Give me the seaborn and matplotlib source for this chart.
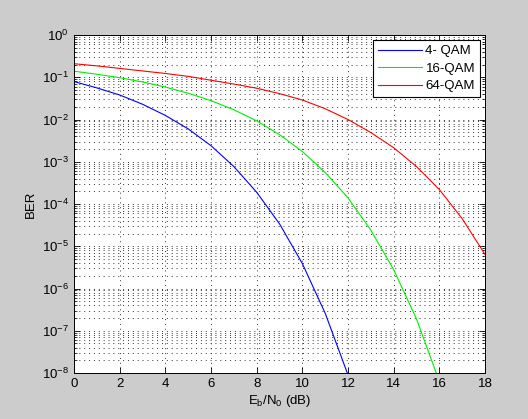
import numpy as np
import pandas as pd
import seaborn as sns
import matplotlib
matplotlib.use('Agg')
import matplotlib.pyplot as plt
from matplotlib.ticker import LogLocator, NullFormatter

# values (Eb/N0 in dB, BER)
ebn0_4 = [0, 1, 2, 3, 4, 5, 6, 7, 8, 9, 10, 11, 12]
ber_4 = [7.9e-2, 5.6e-2, 3.8e-2, 2.3e-2, 1.25e-2, 6.0e-3, 2.4e-3, 7.7e-4,
         1.9e-4, 3.4e-5, 3.9e-6, 2.6e-7, 9.0e-9]

ebn0_16 = [0, 1, 2, 3, 4, 5, 6, 7, 8, 9, 10, 11, 12, 13, 14, 15, 16]
ber_16 = [0.139, 0.118, 0.0976, 0.0774, 0.0586, 0.0419, 0.0279, 0.0170,
          9.3e-3, 4.4e-3, 1.75e-3, 5.6e-4, 1.4e-4, 2.4e-5, 2.8e-6, 1.9e-7, 6.3e-9]

ebn0_64 = [0, 1, 2, 3, 4, 5, 6, 7, 8, 9, 10, 11, 12, 13, 14, 15, 16, 17, 18]
ber_64 = [0.209, 0.186, 0.162, 0.141, 0.123, 0.105, 0.085, 0.069, 0.055,
          0.041, 0.029, 0.018, 0.010, 4.9e-3, 2.15e-3, 7.7e-4, 2.2e-4, 4.5e-5, 6.4e-6]

labels = ['4- QAM', '16-QAM', '64-QAM']
colors = {'4- QAM': 'blue', '16-QAM': '#00ee00', '64-QAM': 'red'}

df = pd.concat([
    pd.DataFrame({'EbN0': ebn0_4, 'BER': ber_4, 'scheme': labels[0]}),
    pd.DataFrame({'EbN0': ebn0_16, 'BER': ber_16, 'scheme': labels[1]}),
    pd.DataFrame({'EbN0': ebn0_64, 'BER': ber_64, 'scheme': labels[2]}),
])

plt.rcParams['font.family'] = ['Liberation Sans', 'DejaVu Sans']
plt.rcParams['font.size'] = 9.5
plt.rcParams['mathtext.default'] = 'regular'

fig = plt.figure(figsize=(5.28, 4.19), dpi=100, facecolor='#cccccc')
ax = fig.add_axes([74 / 528, 1 - 373 / 419, 411 / 528, 338 / 419])

sns.lineplot(data=df, x='EbN0', y='BER', hue='scheme', palette=colors,
             linewidth=0.8, ax=ax, sort=False)

ax.set_yscale('log')
ax.set_xlim(0, 18)
ax.set_ylim(1e-8, 1)
ax.set_xticks(range(0, 19, 2))
ax.yaxis.set_major_locator(LogLocator(base=10, numticks=20))
ax.yaxis.set_minor_locator(LogLocator(base=10, subs=np.arange(2, 10), numticks=20))
ax.yaxis.set_minor_formatter(NullFormatter())

dots = dict(linestyle=(0, (1, 4)), color='#333333', linewidth=0.7)
ax.grid(which='major', axis='both', **dots)
ax.grid(which='minor', axis='y', **dots)
ax.set_axisbelow(True)
ax.tick_params(which='both', direction='in', top=True, right=True, colors='black', labelsize=9.5)
ax.tick_params(which='major', length=4, width=0.6)
ax.tick_params(which='minor', length=2, width=0.5)
for s in ax.spines.values():
    s.set_linewidth(0.7)
    s.set_color('black')

ax.set_xlabel(r'E$_b$/N$_0$ (dB)', fontsize=9.5, labelpad=2)
ax.set_ylabel('BER', fontsize=9.5, labelpad=4)

handles, labs = ax.get_legend_handles_labels()
leg = ax.legend(handles, labs, loc='upper right', fancybox=False, framealpha=1,
                edgecolor='black', handlelength=3.3, borderaxespad=0.4,
                labelspacing=0.4, handletextpad=0.3, borderpad=0.35, fontsize=9.5)
leg.get_frame().set_linewidth(0.8)

fig.savefig('out.png', dpi=100, facecolor=fig.get_facecolor())
